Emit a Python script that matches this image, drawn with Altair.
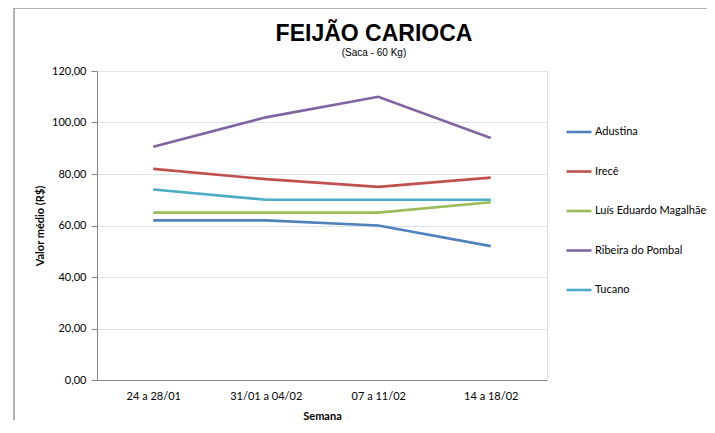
import altair as alt
import pandas as pd

semanas = ["24 a 28/01", "31/01 a 04/02", "07 a 11/02", "14 a 18/02"]
municipios = ["Adustina", "Irecê", "Luís Eduardo Magalhães", "Ribeira do Pombal", "Tucano"]
adustina = [62.0, 62.0, 60.0, 52.0]
irece = [82.0, 78.0, 75.0, 78.6]
lem = [65.0, 65.0, 65.0, 69.0]
ribeira = [90.6, 102.0, 110.0, 94.0]
tucano = [74.0, 70.0, 70.0, 70.0]
cores = ["#4F81BD", "#C0504D", "#9BBB59", "#8064A2", "#4BACC6"]
y_ticks = [0, 20, 40, 60, 80, 100, 120]
titulo = "FEIJÃO CARIOCA"
subtitulo = "(Saca - 60 Kg)"

series = [adustina, irece, lem, ribeira, tucano]
rows = []
for nome, vals in zip(municipios, series):
    for s, v in zip(semanas, vals):
        rows.append({"Semana": s, "Município": nome, "Valor": v})
df = pd.DataFrame(rows)

lines = alt.Chart(df).mark_line(strokeWidth=2.6).encode(
    x=alt.X("Semana:N", sort=semanas, scale=alt.Scale(type="point", padding=0.5),
            axis=alt.Axis(title="Semana", labelAngle=0, ticks=False, domainColor="#868686",
                          labelFont="Lato", labelFontSize=11, labelColor="#000000", labelPadding=10,
                          titleFont="Lato", titleFontSize=11, titleFontWeight="bold",
                          titleColor="#000000", titlePadding=9, grid=False)),
    y=alt.Y("Valor:Q", scale=alt.Scale(domain=[0, 120], nice=False),
            axis=alt.Axis(title="Valor médio (R$)", values=y_ticks,
                          labelExpr="replace(format(datum.value, '.2f'), '.', ',')",
                          labelFont="Lato", labelFontSize=11, labelColor="#000000",
                          tickColor="#868686", tickSize=6, labelPadding=5,
                          domainColor="#868686", gridColor="#dbe3ee",
                          titleFont="Lato", titleFontSize=11, titleFontWeight="bold",
                          titleColor="#000000", titlePadding=6)),
    color=alt.Color("Município:N", sort=municipios,
                    scale=alt.Scale(domain=municipios, range=cores),
                    legend=alt.Legend(title=None, orient="none", legendX=468, legendY=47,
                                      symbolType="stroke", symbolSize=625, symbolStrokeWidth=2.6,
                                      labelFont="Lato", labelFontSize=11, labelColor="#000000",
                                      labelOffset=2, rowPadding=19.5, labelLimit=300)),
)

one = pd.DataFrame({"k": [0]})
frame_top = alt.Chart(one).mark_rule(color="#9a9a9a", strokeWidth=1.5).encode(
    x=alt.value(-83), x2=alt.value(620), y=alt.value(-63))
frame_left = alt.Chart(one).mark_rule(color="#9a9a9a", strokeWidth=1.5).encode(
    x=alt.value(-83), y=alt.value(-63), y2=alt.value(360))

title_txt = alt.Chart(pd.DataFrame({"t": [titulo]})).mark_text(
    font="Liberation Sans", fontSize=23, fontWeight="bold", color="#000000",
    align="center", baseline="alphabetic").encode(
    text="t:N", x=alt.value(277), y=alt.value(-30))
sub_txt = alt.Chart(pd.DataFrame({"t": [subtitulo]})).mark_text(
    font="Liberation Sans", fontSize=10, color="#000000",
    align="center", baseline="alphabetic").encode(
    text="t:N", x=alt.value(277), y=alt.value(-15))

chart = alt.layer(frame_top, frame_left, title_txt, sub_txt, lines).properties(
    width=450, height=309,
    autosize=alt.AutoSizeParams(type="none"),
    padding={"left": 89, "top": 63, "right": 160, "bottom": 40},
).configure_view(stroke=None).configure(background="white")

chart.save("out.html", embed_options={"renderer": "svg", "actions": False})
